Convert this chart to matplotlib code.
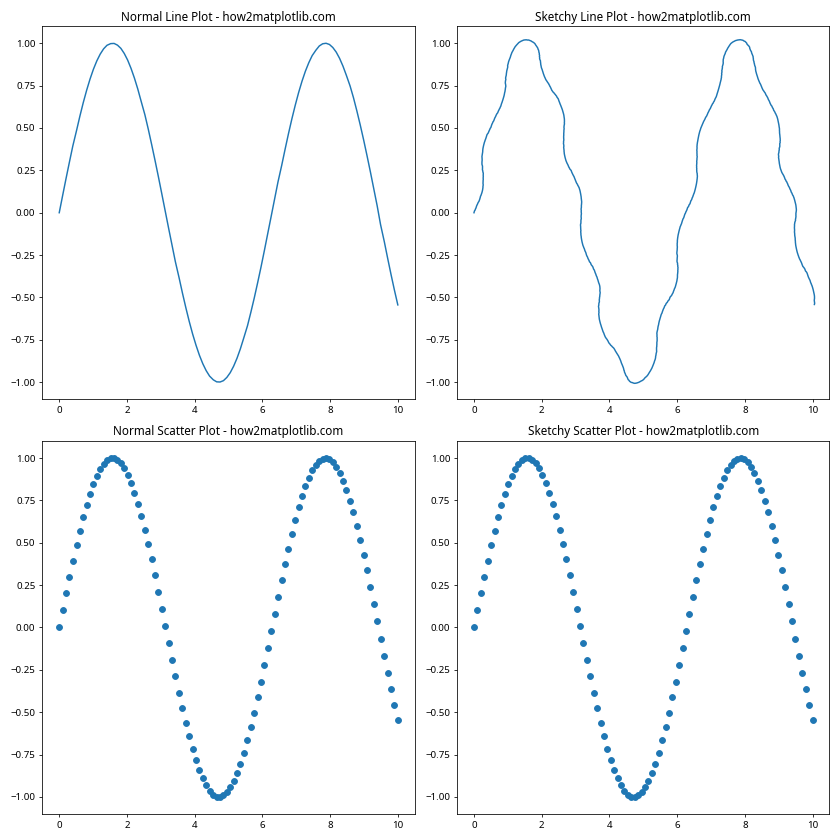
import matplotlib
matplotlib.use("Agg")
import matplotlib.pyplot as plt

plt.rcParams['font.family'] = ['Noto Sans', 'DejaVu Sans']

x = [0.00, 0.10, 0.20, 0.30, 0.40, 0.51, 0.61, 0.71, 0.81, 0.91,
     1.01, 1.11, 1.21, 1.31, 1.41, 1.52, 1.62, 1.72, 1.82, 1.92,
     2.02, 2.12, 2.22, 2.32, 2.42, 2.53, 2.63, 2.73, 2.83, 2.93,
     3.03, 3.13, 3.23, 3.33, 3.43, 3.54, 3.64, 3.74, 3.84, 3.94,
     4.04, 4.14, 4.24, 4.34, 4.44, 4.55, 4.65, 4.75, 4.85, 4.95,
     5.05, 5.15, 5.25, 5.35, 5.45, 5.56, 5.66, 5.76, 5.86, 5.96,
     6.06, 6.16, 6.26, 6.36, 6.46, 6.57, 6.67, 6.77, 6.87, 6.97,
     7.07, 7.17, 7.27, 7.37, 7.47, 7.58, 7.68, 7.78, 7.88, 7.98,
     8.08, 8.18, 8.28, 8.38, 8.48, 8.59, 8.69, 8.79, 8.89, 8.99,
     9.09, 9.19, 9.29, 9.39, 9.49, 9.60, 9.70, 9.80, 9.90, 10.00]

y = [0.000, 0.101, 0.201, 0.298, 0.393, 0.484, 0.570, 0.650, 0.723, 0.789,
     0.847, 0.896, 0.936, 0.967, 0.988, 0.998, 0.999, 0.989, 0.970, 0.940,
     0.901, 0.852, 0.795, 0.730, 0.657, 0.578, 0.493, 0.402, 0.308, 0.211,
     0.111, 0.010, -0.091, -0.190, -0.289, -0.384, -0.475, -0.561, -0.642, -0.716,
     -0.782, -0.841, -0.891, -0.932, -0.964, -0.986, -0.998, -0.999, -0.991, -0.972,
     -0.944, -0.906, -0.859, -0.803, -0.739, -0.667, -0.587, -0.503, -0.413, -0.320,
     -0.222, -0.121, -0.021, 0.080, 0.181, 0.279, 0.374, 0.466, 0.553, 0.634,
     0.709, 0.776, 0.835, 0.885, 0.927, 0.959, 0.984, 0.997, 1.000, 0.993,
     0.975, 0.948, 0.911, 0.865, 0.811, 0.748, 0.679, 0.601, 0.518, 0.430,
     0.337, 0.241, 0.141, 0.041, -0.070, -0.170, -0.269, -0.365, -0.457, -0.544]

titles = ["Normal Line Plot - how2matplotlib.com",
          "Sketchy Line Plot - how2matplotlib.com",
          "Normal Scatter Plot - how2matplotlib.com",
          "Sketchy Scatter Plot - how2matplotlib.com"]

fig, axs = plt.subplots(2, 2, figsize=(12, 12), dpi=70)

axs[0, 0].plot(x, y, color='#1f77b4', lw=1.5)
axs[0, 0].set_title(titles[0], fontsize=12)

line, = axs[0, 1].plot(x, y, color='#1f77b4', lw=1.5)
line.set_sketch_params(scale=4, length=110, randomness=3)
axs[0, 1].set_title(titles[1], fontsize=12)

axs[1, 0].scatter(x, y, color='#1f77b4', s=36)
axs[1, 0].set_title(titles[2], fontsize=12)

sc = axs[1, 1].scatter(x, y, color='#1f77b4', s=36)
axs[1, 1].set_title(titles[3], fontsize=12)

for ax in axs.flat:
    ax.tick_params(labelsize=10)

plt.tight_layout()
plt.savefig("out.png", dpi=70)
